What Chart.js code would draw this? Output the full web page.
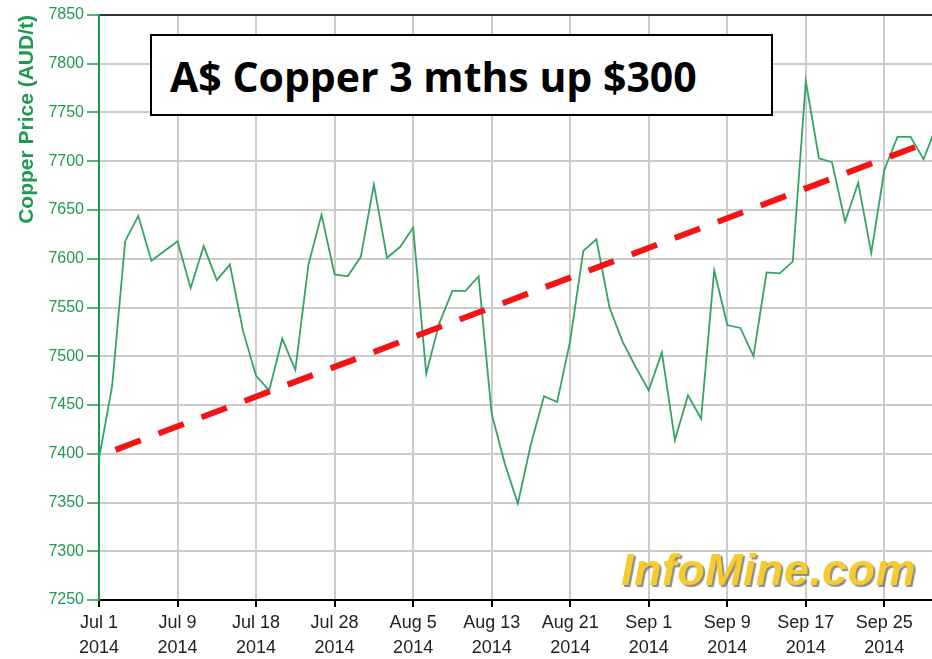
<!DOCTYPE html>
<html>
<head>
<meta charset="utf-8">
<title>A$ Copper 3 mths</title>
<script src="https://cdn.jsdelivr.net/npm/chart.js@4.4.1/dist/chart.umd.min.js"></script>
<style>
    html, body { margin: 0; padding: 0; background: #fff; overflow: hidden; }
    #wrap { position: relative; width: 932px; height: 659px; }
    .note {
        position: absolute; left: 150px; top: 34px; width: 623px; height: 82px;
        box-sizing: border-box; border: 2px solid #000; background: #fff;
        padding: 20px 0 0 18px; white-space: nowrap; color: #000;
        font: bold 41px/41px 'Open Sans', sans-serif;
    }
    .brand {
        position: absolute; left: 621px; top: 547px; white-space: nowrap;
        font: italic bold 45px/45px 'Liberation Sans', Arial, sans-serif;
        letter-spacing: 0.4px;
        color: #f7cb2d; text-shadow: 2px 2px 1px rgba(90, 90, 90, 0.7);
    }
</style>
</head>
<body>
<div id="wrap">
    <canvas id="chart" width="932" height="659"></canvas>
    <div class="note">A$ Copper 3 mths up $300</div>
    <div class="brand">InfoMine.com</div>
</div>
<script>
// etiquetas del eje x (una cada 6 sesiones)
const tickLabels = ['Jul 1', 'Jul 9', 'Jul 18', 'Jul 28', 'Aug 5', 'Aug 13', 'Aug 21', 'Sep 1', 'Sep 9', 'Sep 17', 'Sep 25'];
const tickYear = '2014';

// precio diario del cobre en AUD/t
const prices = [
    7395, 7469, 7618, 7644, 7598, 7608, 7618, 7570, 7613, 7578,
    7594, 7526, 7480, 7465, 7518, 7486, 7594, 7645, 7584, 7582,
    7602, 7676, 7601, 7612, 7632, 7482, 7534, 7567, 7567, 7582,
    7441, 7390, 7349, 7410, 7459, 7453, 7516, 7608, 7620, 7550,
    7515, 7489, 7465, 7504, 7414, 7460, 7436, 7588, 7532, 7529,
    7500, 7586, 7585, 7597, 7782, 7703, 7699, 7638, 7678, 7606,
    7691, 7725, 7725, 7702, 7737,
];

// línea de tendencia (índice de sesión, precio)
const trendX = [1.26, 64];
const trendY = [7404, 7723];

const GREEN = '#1e9a50';
const X_MAX = 63.64; // el gráfico está recortado por la derecha

const pricePoints = prices.map((y, x) => ({ x, y }));
const trendPoints = trendX.map((x, i) => ({ x, y: trendY[i] }));

Chart.defaults.font.family = "'Liberation Sans', Arial, sans-serif";

new Chart(document.getElementById('chart'), {
    type: 'line',
    data: {
        datasets: [
            {
                data: trendPoints,
                borderColor: '#f51414',
                borderWidth: 6,
                borderDash: [27, 19],
                borderCapStyle: 'butt',
                pointRadius: 0,
            },
            {
                data: pricePoints,
                borderColor: '#36a366',
                borderWidth: 1.8,
                pointRadius: 0,
                tension: 0,
            },
        ],
    },
    options: {
        responsive: false,
        devicePixelRatio: 1,
        animation: false,
        layout: { padding: { top: 15, right: 0, left: 0, bottom: 0 } },
        plugins: {
            legend: { display: false },
            tooltip: { enabled: false },
        },
        scales: {
            x: {
                type: 'linear',
                min: 0,
                max: X_MAX,
                afterFit: (scale) => { scale.height = 59; },
                grid: {
                    color: '#cccccc',
                    lineWidth: 2,
                    tickColor: '#000',
                    tickLength: 7,
                    tickWidth: 2,
                },
                border: { color: '#000', width: 2 },
                ticks: {
                    stepSize: 6,
                    includeBounds: false,
                    autoSkip: false,
                    maxRotation: 0,
                    padding: 3,
                    color: '#222',
                    font: { size: 18, lineHeight: 1.4 },
                    callback: (value) => [tickLabels[value / 6], tickYear],
                },
            },
            y: {
                min: 7250,
                max: 7850,
                afterFit: (scale) => { scale.width = 99; },
                grid: {
                    color: (ctx) => (ctx.tick && ctx.tick.value === 7850 ? '#333' : '#cccccc'),
                    lineWidth: 2,
                    tickColor: GREEN,
                    tickLength: 12,
                    tickWidth: 1.5,
                },
                border: { color: GREEN, width: 2 },
                ticks: {
                    stepSize: 50,
                    padding: 3,
                    color: GREEN,
                    font: { size: 16 },
                    callback: (value) => String(value),
                },
                title: {
                    display: true,
                    text: 'Copper Price (AUD/t)',
                    align: 'end',
                    color: GREEN,
                    font: { size: 21, weight: 'bold' },
                    padding: { top: 15, bottom: 0 },
                },
            },
        },
    },
});
</script>
</body>
</html>
